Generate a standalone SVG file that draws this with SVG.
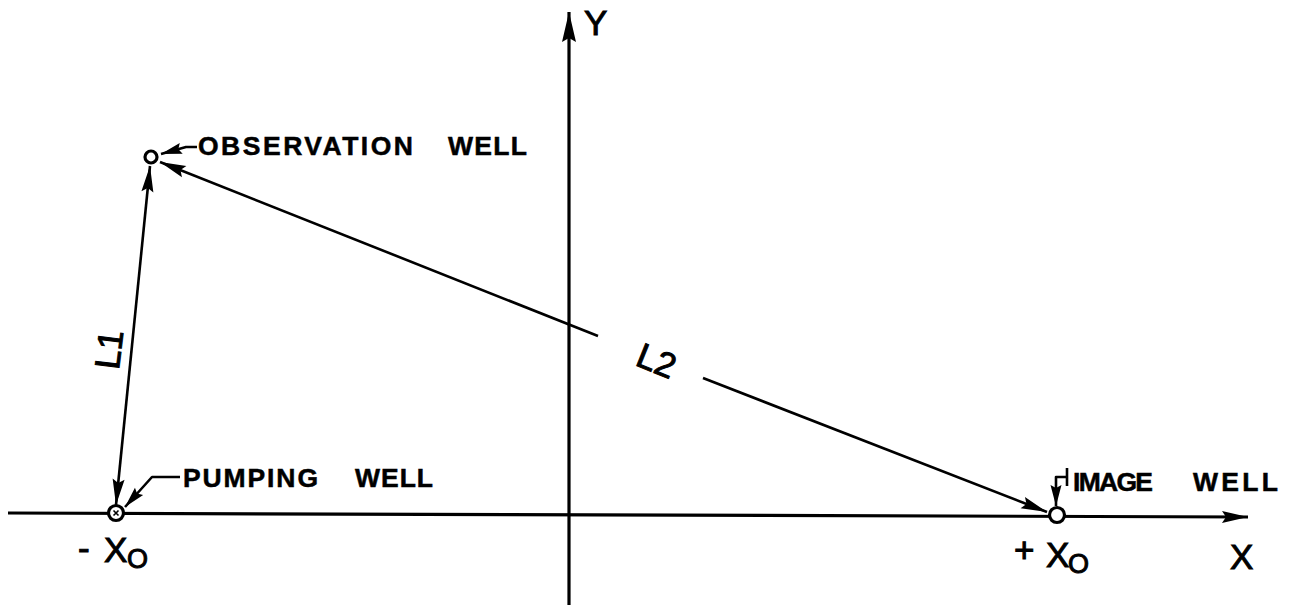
<svg xmlns="http://www.w3.org/2000/svg" width="1296" height="607" viewBox="0 0 1296 607">
<style>
.ln{fill:none;stroke:#000;stroke-width:3.2;stroke-linecap:butt;stroke-linejoin:round}
.thin{fill:none;stroke:#000;stroke-width:2.6;stroke-linejoin:round}
.well{fill:#fff;stroke:#000;stroke-width:3.2}
.lab{font-family:"Liberation Sans",Arial,sans-serif;font-weight:bold;font-size:26.5px;fill:#000;stroke:#000;stroke-width:0.5}
.big{font-family:"Liberation Sans",Arial,sans-serif;font-size:35px;fill:#000;stroke:#000;stroke-width:1}
.sub{font-family:"Liberation Sans",Arial,sans-serif;font-size:27px;fill:#000;stroke:#000;stroke-width:1}
</style>
<defs>
<marker id="arr" markerUnits="userSpaceOnUse" markerWidth="40" markerHeight="20" refX="0" refY="0" viewBox="-30 -10 40 20" orient="auto-start-reverse" overflow="visible">
<path d="M0,0 L-26,-6 L-22,0 L-26,6 Z" fill="#000"/>
</marker>
<marker id="arrS" markerUnits="userSpaceOnUse" markerWidth="40" markerHeight="20" refX="0" refY="0" viewBox="-30 -10 40 20" orient="auto" overflow="visible">
<path d="M0,0 L-21,-5.5 L-18,0 L-21,5.5 Z" fill="#000"/>
</marker>
<marker id="arrL" markerUnits="userSpaceOnUse" markerWidth="40" markerHeight="20" refX="0" refY="0" viewBox="-34 -10 40 20" orient="auto" overflow="visible">
<path d="M0,0 L-30,-7 L-26,0 L-30,7 Z" fill="#000"/>
</marker>
</defs>
<rect width="1296" height="607" fill="#fff"/>
<g id="connectors">
<path id="x-axis" class="ln" d="M8,513 L1248,517" marker-end="url(#arr)"/>
<path id="y-axis" class="ln" d="M569,605 L569,12" marker-end="url(#arrL)"/>
<path id="L1-line" class="thin" d="M116,505 L150,166" marker-start="url(#arr)" marker-end="url(#arr)"/>
<path id="L2-line-a" class="thin" d="M598,336 L160,162" marker-end="url(#arr)"/>
<path id="L2-line-b" class="thin" d="M703,378 L1047,512" marker-end="url(#arr)"/>
<path id="obs-leader" class="thin" d="M197,147 L186,147 L161,154" marker-end="url(#arrS)"/>
<path id="pump-leader" class="thin" d="M180,477 L152,477 L125,507" marker-end="url(#arrS)"/>
<path id="img-tick" class="thin" d="M1067,468 L1067,486"/>
<path id="img-leader" class="thin" d="M1067,477 L1056,477 L1056,506" marker-end="url(#arrS)"/>
</g>
<g id="observation-well">
<circle class="well" cx="151" cy="157" r="6"/>
<text class="lab" x="198" y="155" textLength="215" lengthAdjust="spacing">OBSERVATION</text>
<text class="lab" x="448" y="155" textLength="79" lengthAdjust="spacing">WELL</text>
</g>
<g id="pumping-well">
<circle class="well" cx="116" cy="513" r="7.5"/>
<path d="M113.5,510.5 L118.5,515.5 M118.5,510.5 L113.5,515.5" stroke="#000" stroke-width="1.6"/>
<text class="lab" x="183" y="487" textLength="135" lengthAdjust="spacing">PUMPING</text>
<text class="lab" x="355" y="487" textLength="78" lengthAdjust="spacing">WELL</text>
<text class="big" x="78" y="560">-</text>
<text class="big" x="104" y="562">X</text>
<text class="sub" x="127" y="568">O</text>
</g>
<g id="image-well">
<circle class="well" cx="1057" cy="515" r="7.5"/>
<text class="lab" x="1073" y="491" textLength="80" lengthAdjust="spacing">IMAGE</text>
<text class="lab" x="1193" y="491" textLength="85" lengthAdjust="spacing">WELL</text>
<text class="big" x="1014" y="562">+</text>
<text class="big" x="1046" y="567">X</text>
<text class="sub" x="1068" y="573">O</text>
</g>
<g id="axis-labels">
<text class="big" x="584" y="35">Y</text>
<text class="big" x="1230" y="569">X</text>
</g>
<g id="distance-labels">
<text class="big" text-anchor="middle" transform="translate(121,351) rotate(-83)">L1</text>
<text class="big" text-anchor="middle" transform="translate(652,372) rotate(22)">L2</text>
</g>
</svg>
